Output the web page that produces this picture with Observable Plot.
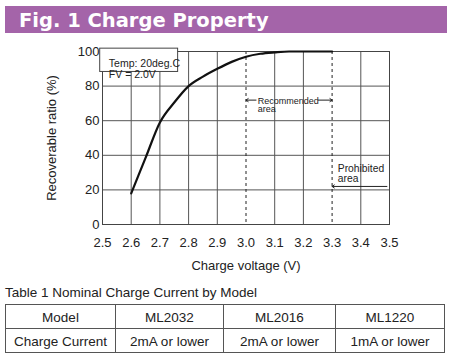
<!DOCTYPE html>
<html>
<head>
<meta charset="utf-8">
<script src="https://cdn.jsdelivr.net/npm/d3@7"></script>
<script src="https://cdn.jsdelivr.net/npm/@observablehq/plot@0.6"></script>
<style>
  html, body { margin: 0; padding: 0; background: #fff; }
  body { width: 450px; height: 358px; position: relative; overflow: hidden; font-family: "Liberation Sans", Arial, sans-serif; }
  #header { position: absolute; left: 5px; top: 6px; width: 442px; height: 27px; background: #a464a9; color: #fff;
            font-family: "DejaVu Sans", sans-serif; font-weight: bold; font-size: 19.5px; line-height: 29px; padding-left: 14px; box-sizing: border-box; white-space: nowrap; }
  #chart { position: absolute; left: 0; top: 36px; }
  #tabletitle { position: absolute; left: 5px; top: 284.6px; font-size: 13.5px; line-height: 16px; color: #222; white-space: nowrap; }
  #tbl { position: absolute; left: 5px; top: 304px; border-collapse: collapse; font-size: 13.5px; color: #222; }
  #tbl td { border: 1px solid #555; text-align: center; padding: 1px 0 0 0; white-space: nowrap; }
  #tbl tr { height: 24px; }
</style>
</head>
<body>
<div id="header"></div>
<div id="chart"></div>
<div id="tabletitle"></div>
<table id="tbl"></table>
<script>
// ---- data ----
const title = "Fig. 1 Charge Property";
const voltage = [2.60, 2.65, 2.70, 2.75, 2.80, 2.85, 2.90, 2.95, 3.00, 3.05, 3.10, 3.15, 3.20, 3.30];
const ratio   = [18,   38.5, 59,   70.5, 80,   85.5, 90,   94,   97,   98.7, 99.5, 100,  100,  100];
const xTicks = [2.5, 2.6, 2.7, 2.8, 2.9, 3.0, 3.1, 3.2, 3.3, 3.4, 3.5];
const yTicks = [0, 20, 40, 60, 80, 100];
const recommended = [3.0, 3.3];
const conditions = ["Temp: 20deg.C", "FV = 2.0V"];
const recommendedLabel = "Recommended\narea";
const prohibitedLabel = "Prohibited\narea";
const xLabel = "Charge voltage (V)";
const yLabel = "Recoverable ratio (%)";
const tableTitle = "Table 1 Nominal Charge Current by Model";
const tableHeader = ["Model", "ML2032", "ML2016", "ML1220"];
const tableRow = ["Charge Current", "2mA or lower", "2mA or lower", "1mA or lower"];
const colWidths = [110, 108, 112, 109];

// ---- chart ----
const curve = voltage.map((v, i) => ({v, r: ratio[i]}));

const chart = Plot.plot({
  width: 450,
  height: 240,
  marginLeft: 102,
  marginRight: 61,
  marginTop: 15,
  marginBottom: 52,
  style: {fontFamily: "'Liberation Sans', Arial, sans-serif", fontSize: "13px", color: "#222", background: "white", overflow: "visible"},
  x: {domain: [2.5, 3.5], ticks: xTicks, tickFormat: d3.format(".1f"), tickSize: 0, tickPadding: 13,
      label: xLabel, labelAnchor: "center", labelOffset: 45, labelArrow: "none"},
  y: {domain: [0, 100], ticks: yTicks, tickSize: 0, tickPadding: 3,
      label: yLabel, labelAnchor: "center", labelOffset: 56, labelArrow: "none"},
  marks: [
    Plot.ruleX(xTicks.filter(v => !recommended.includes(v)), {stroke: "#555", strokeWidth: 1}),
    Plot.ruleY(yTicks, {stroke: "#555", strokeWidth: 1}),
    Plot.ruleX(recommended, {stroke: "#222", strokeWidth: 1, strokeDasharray: "3,3"}),
    Plot.frame({stroke: "#444"}),
    Plot.line(curve, {x: "v", y: "r", curve: "monotone-x", stroke: "#111", strokeWidth: 2.2}),
    // condition box text
    Plot.text([conditions.join("\n")], {frameAnchor: "top-left", dx: 6.3, dy: 8.2, lineAnchor: "top",
      textAnchor: "start", fontSize: 10.5, lineHeight: 1.0, fill: "#222", className: "cond"}),
    // recommended area
    Plot.text([recommendedLabel], {x: recommended[0], y: 73.3, dx: 11.7, textAnchor: "start", lineAnchor: "top",
      fontSize: 9, lineHeight: 0.95, fill: "#222"}),
    Plot.arrow([0], {x1: 3.035, x2: recommended[0], y1: 71.9, y2: 71.9, stroke: "#222", strokeWidth: 1, headLength: 4, headAngle: 70, insetEnd: 0}),
    Plot.arrow([0], {x1: 3.252, x2: recommended[1], y1: 71.9, y2: 71.9, stroke: "#222", strokeWidth: 1, headLength: 4, headAngle: 70, insetEnd: 0}),
    // prohibited area
    Plot.text([prohibitedLabel], {x: recommended[1], y: 34.1, dx: 5.7, textAnchor: "start", lineAnchor: "top",
      fontSize: 10.3, lineHeight: 0.91, fill: "#222"}),
    Plot.arrow([0], {x1: 3.491, x2: recommended[1], y1: 22, y2: 22, stroke: "#222", strokeWidth: 1, headLength: 4, headAngle: 70, insetEnd: 0})
  ]
});
document.getElementById("chart").appendChild(chart);

// white box behind the condition text
{
  const g = chart.querySelector("g.cond") || [...chart.querySelectorAll("text")].find(t => t.textContent.includes("Temp"))?.parentNode;
  if (g) {
    const bb = g.getBBox();
    const rect = document.createElementNS("http://www.w3.org/2000/svg", "rect");
    rect.setAttribute("x", bb.x - 2.3);
    rect.setAttribute("y", bb.y - 0.3);
    rect.setAttribute("width", bb.width + 6.3);
    rect.setAttribute("height", bb.height + 0.8);
    rect.setAttribute("fill", "white");
    rect.setAttribute("stroke", "#444");
    g.parentNode.insertBefore(rect, g);
  }
}

// ---- header & table ----
document.getElementById("header").textContent = title;
document.getElementById("tabletitle").textContent = tableTitle;
const tbl = d3.select("#tbl");
[tableHeader, tableRow].forEach(row => {
  const tr = tbl.append("tr");
  row.forEach((c, i) => tr.append("td").style("width", (colWidths[i] - 1) + "px").text(c));
});
</script>
</body>
</html>
